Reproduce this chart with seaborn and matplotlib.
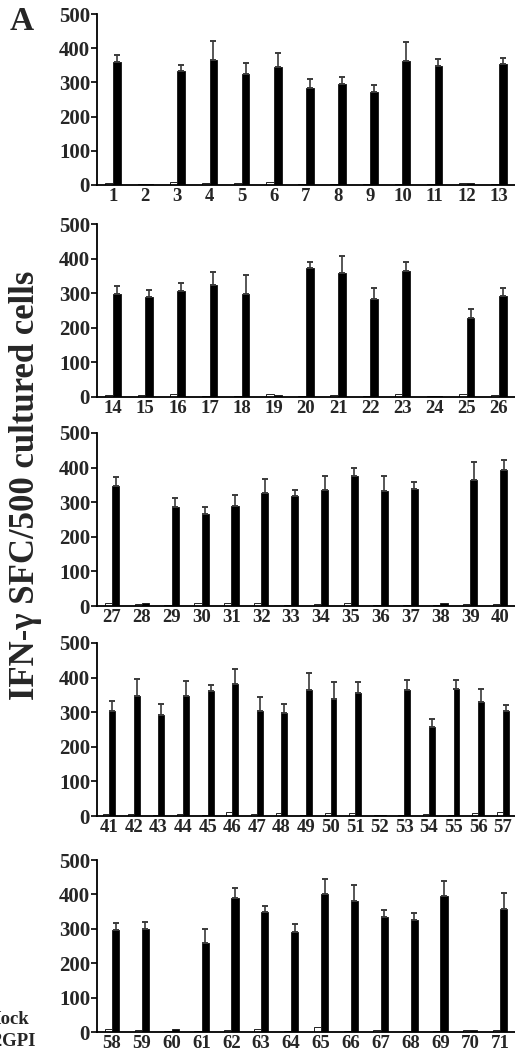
import numpy as np
import pandas as pd
import matplotlib
matplotlib.use("Agg")
import matplotlib.pyplot as plt
import seaborn as sns

# Peptide numbers shown in each of the five rows
panel_peptides = [
    list(range(1, 14)),
    list(range(14, 27)),
    list(range(27, 41)),
    list(range(41, 58)),
    list(range(58, 72)),
]

# IFN-gamma spot-forming cells per 500 cultured cells, peptides 1-71
mock_sfc = [
    7, 3, 8, 5, 6, 8, 3, 3, 4, 3, 3, 5, 3,
    7, 5, 8, 4, 4, 8, 3, 6, 4, 8, 3, 10, 5,
    8, 7, 4, 8, 10, 10, 3, 5, 8, 3, 4, 4, 5, 7,
    7, 6, 3, 5, 3, 12, 5, 8, 4, 8, 8, 3, 4, 5, 3, 10, 12,
    8, 6, 4, 4, 7, 10, 4, 14, 4, 7, 4, 4, 7, 5,
]
b2gpi_sfc = [
    361, 4, 333, 366, 324, 345, 284, 296, 272, 364, 347, 5, 354,
    299, 290, 305, 325, 298, 5, 372, 359, 282, 365, 3, 227, 292,
    346, 8, 285, 266, 289, 326, 317, 334, 375, 331, 339, 10, 363, 392,
    303, 347, 292, 347, 360, 381, 303, 298, 363, 338, 356, 3, 363, 258, 368, 330, 303,
    297, 300, 10, 258, 390, 348, 291, 401, 381, 335, 325, 395, 7, 359,
]
b2gpi_err = [
    20, 0, 18, 54, 33, 41, 25, 20, 19, 55, 22, 0, 18,
    21, 19, 25, 37, 54, 0, 19, 48, 32, 24, 0, 27, 22,
    26, 0, 28, 20, 31, 42, 19, 42, 25, 45, 19, 0, 53, 29,
    29, 48, 32, 43, 19, 43, 41, 25, 49, 48, 32, 0, 29, 21, 24, 38, 18,
    20, 20, 0, 40, 28, 18, 23, 43, 45, 21, 20, 45, 0, 46,
]
conditions = ["Mock", "\u03b22GPI"]
y_ticks = [0, 100, 200, 300, 400, 500]

W, H = 515, 1055
fig = plt.figure(figsize=(W / 100, H / 100), dpi=100)
sns.set_style("ticks")
serif = ["Liberation Serif", "DejaVu Serif"]
plt.rcParams["font.family"] = serif
plt.rcParams["font.weight"] = "bold"

# top / bottom pixel rows of each panel's 0-500 range
rows_px = [(14, 185), (224, 397), (433, 606), (643, 816), (860, 1032)]
left_px = 97

start = 0
for peps, (top, bot) in zip(panel_peptides, rows_px):
    n = len(peps)
    sl = slice(start, start + n)
    start += n
    labels = [str(p) for p in peps]
    df = pd.DataFrame({
        "peptide": labels * 2,
        "condition": [conditions[0]] * n + [conditions[1]] * n,
        "sfc": mock_sfc[sl] + b2gpi_sfc[sl],
    })
    ax = fig.add_axes([left_px / W, 1 - bot / H, 1 - left_px / W, (bot - top) / H])
    sns.barplot(data=df, x="peptide", y="sfc", hue="condition",
                hue_order=conditions, order=labels,
                palette={conditions[0]: "white", conditions[1]: "black"},
                edgecolor="#222222", linewidth=0.7, width=0.48, gap=0,
                errorbar=None, legend=False, ax=ax)
    # one-sided error bars on the peptide-stimulated bars
    bars = ax.containers[1]
    xs = [b.get_x() + b.get_width() / 2 for b in bars]
    hs = [b.get_height() for b in bars]
    errs = np.array(b2gpi_err[sl], dtype=float)
    mask = errs > 0
    ax.errorbar(np.array(xs)[mask], np.array(hs)[mask],
                yerr=[np.zeros(mask.sum()), errs[mask]],
                fmt="none", ecolor="#3a3a3a", elinewidth=1.2,
                capsize=2.5, capthick=1.4)
    ax.set_ylim(0, 500)
    ax.set_xlim(-0.5, n - 0.5)
    ax.set_yticks(y_ticks)
    ax.set_xlabel("")
    ax.set_ylabel("")
    ax.tick_params(axis="y", length=4, width=1.2, direction="out",
                   labelsize=15, pad=1, color="black")
    ax.tick_params(axis="x", length=0, labelsize=13.5, pad=2)
    for lab in ax.get_xticklabels() + ax.get_yticklabels():
        lab.set_fontweight("bold")
        lab.set_family(serif)
    sns.despine(ax=ax, top=True, right=True)
    for side in ("left", "bottom"):
        ax.spines[side].set_linewidth(1.3)
        ax.spines[side].set_color("black")
    ax.patch.set_alpha(0)

fig.text(26 / W, 1 - 485 / H, "IFN-\u03b3 SFC/500 cultured cells",
         rotation=90, ha="center", va="center", fontsize=25,
         fontweight="bold", family=serif)
fig.text(22 / W, 1 - 22 / H, "A", ha="center", va="center",
         fontsize=24, fontweight="bold", family=serif)
# legend labels, partly beyond the left edge
fig.text(29 / W, 1 - 1019 / H, "Mock", ha="right", va="center",
         fontsize=13.5, fontweight="bold", family=serif)
fig.text(36 / W, 1 - 1042 / H, "\u03b22GPI", ha="right", va="center",
         fontsize=13.5, fontweight="bold", family=serif)

fig.savefig("out.png", dpi=100)
